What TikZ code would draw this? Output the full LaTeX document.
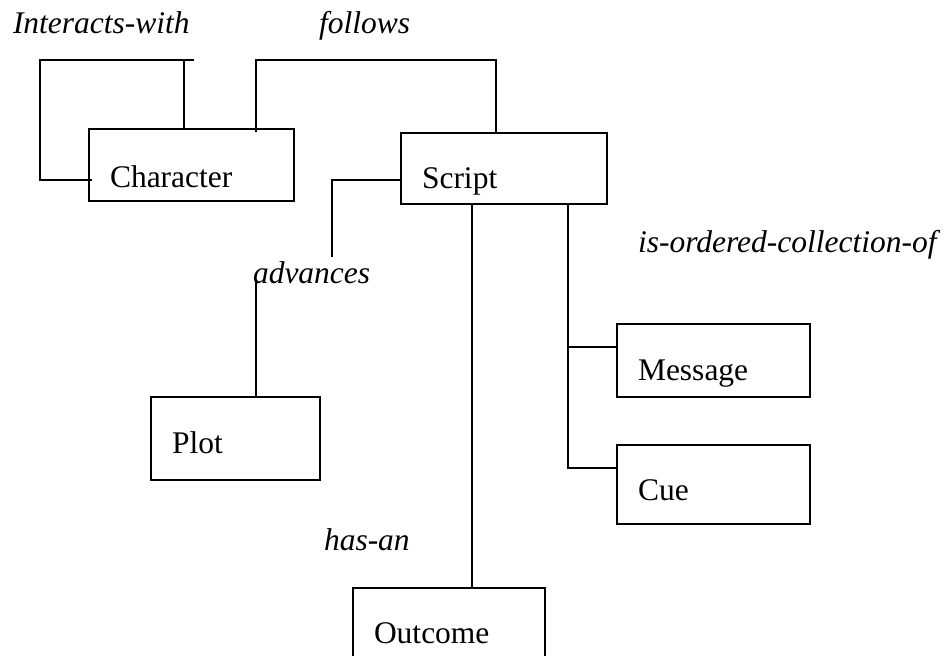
\documentclass[tikz,border=0pt]{standalone}
\usepackage{fontspec}
\setmainfont{Liberation Serif}

\begin{document}
\begin{tikzpicture}[
	x=1pt, y=1pt,
	line width=2pt,
	ent/.style={
		rectangle,
		draw=black,
		anchor=north west,
		align=left,
		inner xsep=21pt,
		inner ysep=0pt,
		text height=56pt,
		font=\fontsize{31.5}{36}\selectfont
		},
	rel/.style={
		anchor=base west,
		inner sep=0pt,
		font=\fontsize{31.5}{36}\selectfont\itshape
	}
]
\useasboundingbox (0,0) rectangle (951,656);

% Entities
\node [ent, text width=163pt, text height=59pt, text depth=13pt] (Character) at (88,528) {Character};
\node [ent, text width=164pt, text depth=15pt] (Script) at (400,524) {Script};
\node [ent, text width=127pt, text height=57pt, text depth=26pt] (Plot) at (150,260) {Plot};
\node [ent, text width=151pt, text height=57pt, text depth=16pt] (Message) at (616,333) {Message};
\node [ent, text width=151pt, text depth=23pt] (Cue) at (616,212) {Cue};
\node [ent, text width=150pt, text depth=24pt] (Outcome) at (352,69) {Outcome};

% Relation names
\node [rel] (Interacts) at (12,622) {Interacts-with};
\node [rel] (Follows) at (318,622) {follows};
\node [rel] (Advances) at (252,372) {advances};
\node [rel] (Collection) at (637,403) {is-ordered-collection-of};
\node [rel] (HasAn) at (323,105) {has-an};

% Links
\draw ([shift={(4pt,-52pt)}]Character.north west) -| (40,596) -- ++(154,0);
\draw ([xshift=96pt]Character.north west) -- ++(0,68);
\draw ([shift={(168pt,-4pt)}]Character.north west) |- (496,596) -- ([xshift=96pt]Script.north west);
\draw ([yshift=-48pt]Script.north west) -| (332,399);
\draw ([xshift=106pt]Plot.north west) -- ([shift={(4pt,4pt)}]Advances.base west);
\draw ([xshift=72pt]Script.south west) -- ([xshift=120pt]Outcome.north west);
\draw ([xshift=168pt]Script.south west) |- ([yshift=-24pt]Cue.north west);
\draw ([yshift=-24pt]Message.north west) -- ++(-48,0);

\end{tikzpicture}
\end{document}
